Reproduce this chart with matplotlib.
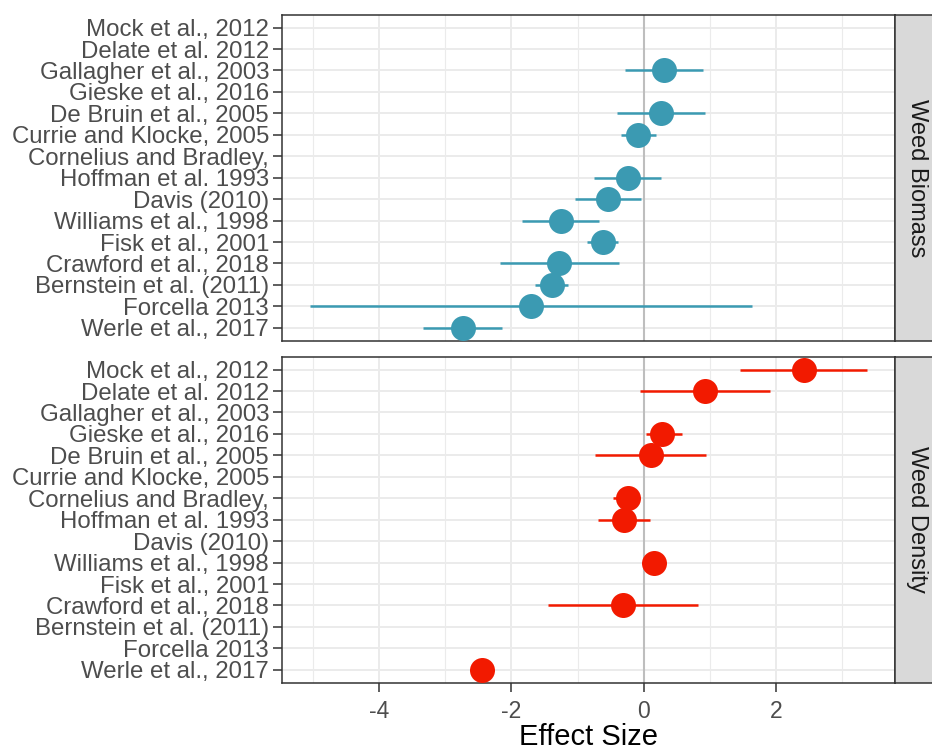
import matplotlib
matplotlib.use("Agg")
import matplotlib.pyplot as plt
from matplotlib.ticker import MultipleLocator
import numpy as np

plt.rcParams['font.family'] = ['Liberation Sans', 'DejaVu Sans']
plt.rcParams['axes.unicode_minus'] = False

# studies, top to bottom
studies = [
    "Mock et al., 2012", "Delate et al. 2012", "Gallagher et al., 2003",
    "Gieske et al., 2016", "De Bruin et al., 2005", "Currie and Klocke, 2005",
    "Cornelius and Bradley,", "Hoffman et al. 1993", "Davis (2010)",
    "Williams et al., 1998", "Fisk et al., 2001", "Crawford et al., 2018",
    "Bernstein et al. (2011)", "Forcella 2013", "Werle et al., 2017",
]
nan = np.nan

# Weed Biomass
bio_es = [nan, nan, 0.31, nan, 0.26, -0.08, nan, -0.24, -0.54,
          -1.25, -0.62, -1.28, -1.39, -1.70, -2.74]
bio_lo = [nan, nan, -0.29, nan, -0.41, -0.34, nan, -0.75, -1.04,
          -1.84, -0.86, -2.17, -1.65, -5.05, -3.34]
bio_hi = [nan, nan, 0.89, nan, 0.92, 0.18, nan, 0.26, -0.04,
          -0.67, -0.39, -0.38, -1.15, 1.64, -2.14]

# Weed Density
den_es = [2.42, 0.93, nan, 0.28, 0.11, nan, -0.24, -0.30, nan,
          0.16, nan, -0.32, nan, nan, -2.44]
den_lo = [1.45, -0.05, nan, 0.03, -0.73, nan, -0.47, -0.69, nan,
          0.02, nan, -1.45, nan, nan, -2.60]
den_hi = [3.38, 1.91, nan, 0.58, 0.95, nan, -0.06, 0.10, nan,
          0.20, nan, 0.82, nan, nan, -2.30]

panels = [
    ("Weed Biomass", bio_es, bio_lo, bio_hi, "#3B9AB2"),
    ("Weed Density", den_es, den_lo, den_hi, "#F21A00"),
]

W, H = 932, 752
fig = plt.figure(figsize=(W / 100, H / 100), dpi=100)

left, right = 282, 895
strip_right = 940
boxes = [(14.7, 340.7), (356.7, 682.7)]

all_vals = np.array(bio_lo + bio_hi + den_lo + den_hi, dtype=float)
vmin, vmax = np.nanmin(all_vals), np.nanmax(all_vals)
pad = 0.05 * (vmax - vmin)
xlim = (vmin - pad, vmax + pad)

ypos = np.arange(len(studies))
border = "#333333"

for i, (name, es, lo, hi, col) in enumerate(panels):
    top, bot = boxes[i]
    ax = fig.add_axes([left / W, 1 - bot / H, (right - left) / W, (bot - top) / H])
    ax.set_facecolor("white")
    ax.set_xlim(*xlim)
    ax.set_ylim(len(studies) - 0.4, -0.6)

    ax.xaxis.set_major_locator(MultipleLocator(2))
    ax.xaxis.set_minor_locator(MultipleLocator(1))
    ax.grid(True, which="major", axis="both", color="#EBEBEB", linewidth=1.4, zorder=0)
    ax.grid(True, which="minor", axis="x", color="#EBEBEB", linewidth=0.8, zorder=0)
    ax.set_axisbelow(True)

    ax.axvline(0, color="#BEBEBE", linewidth=1.5, zorder=1)

    es = np.array(es, dtype=float)
    lo = np.array(lo, dtype=float)
    hi = np.array(hi, dtype=float)
    ax.hlines(ypos, lo, hi, color=col, linewidth=1.8, zorder=2)
    ax.plot(es, ypos, "o", color=col, markersize=18, markeredgewidth=0, zorder=3)

    ax.set_yticks(ypos)
    ax.set_yticklabels(studies)
    ax.tick_params(axis="y", which="major", length=6.3, width=1.1, color=border,
                   labelsize=17.3, labelcolor="#4D4D4D", pad=3)
    ax.tick_params(axis="y", which="minor", left=False)

    if i == 1:
        ax.tick_params(axis="x", which="major", length=6.3, width=1.1, color=border,
                       labelsize=16.5, labelcolor="#4D4D4D", pad=6)
        ax.tick_params(axis="x", which="minor", bottom=False)
        ax.set_xlabel("Effect Size", fontsize=21, color="black", labelpad=0)
    else:
        ax.tick_params(axis="x", which="both", bottom=False, labelbottom=False)

    for s in ax.spines.values():
        s.set_color(border)
        s.set_linewidth(1.1)

    # facet strip
    sax = fig.add_axes([right / W, 1 - bot / H, (strip_right - right) / W, (bot - top) / H])
    sax.set_facecolor("#D9D9D9")
    sax.set_xticks([])
    sax.set_yticks([])
    for s in sax.spines.values():
        s.set_color(border)
        s.set_linewidth(1.1)
    sax.text((917 - right) / (strip_right - right), 0.5, name, rotation=270,
             ha="center", va="center", fontsize=17, color="#1A1A1A",
             transform=sax.transAxes)

fig.savefig("out.png", dpi=100)
